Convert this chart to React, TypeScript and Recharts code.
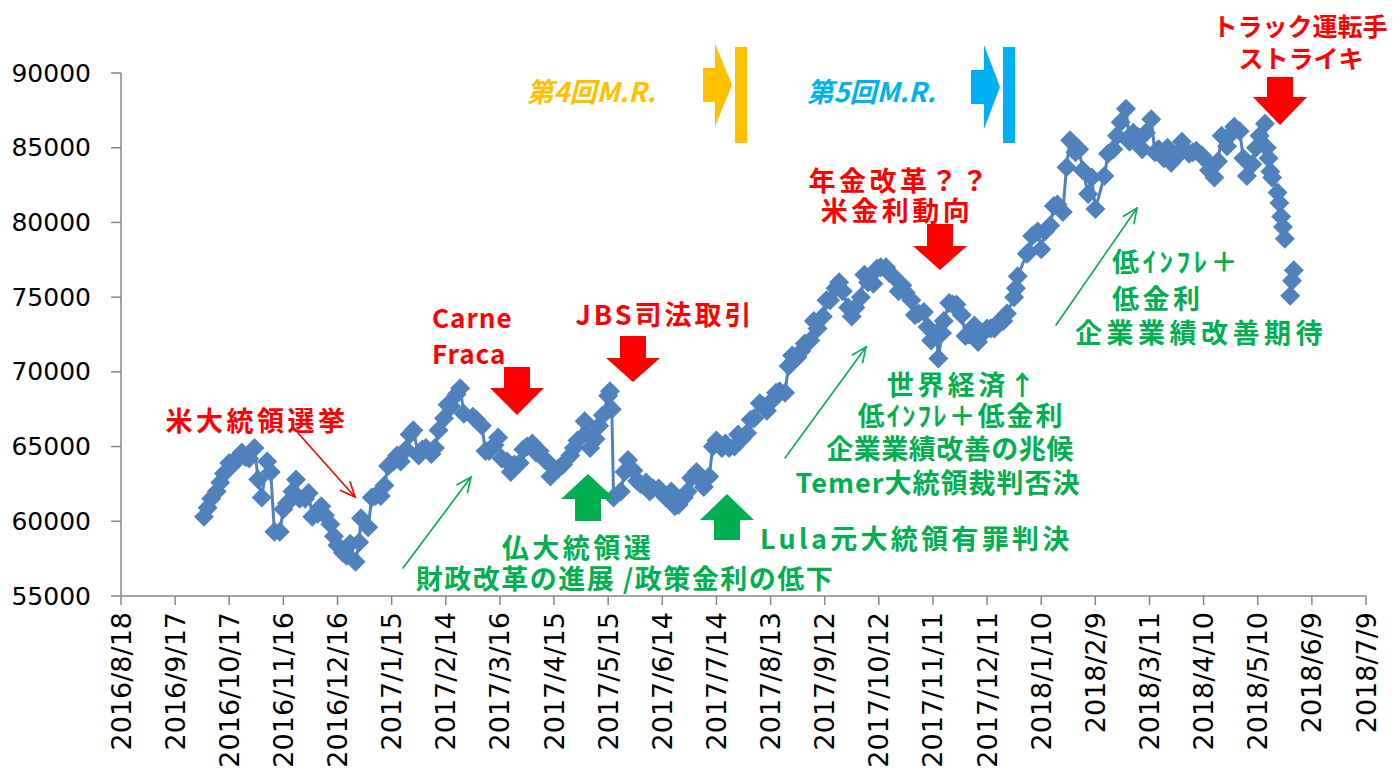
import React from 'react';
import { LineChart, Line, XAxis, YAxis } from 'recharts';

const dates: string[] = [
'2016-10-03','2016-10-05','2016-10-07',
'2016-10-10','2016-10-12','2016-10-14',
'2016-10-17','2016-10-19','2016-10-21',
'2016-10-24','2016-10-26','2016-10-28',
'2016-10-31','2016-11-02','2016-11-04',
'2016-11-07','2016-11-09','2016-11-11',
'2016-11-14','2016-11-16','2016-11-18',
'2016-11-21','2016-11-23','2016-11-25',
'2016-11-28','2016-11-30','2016-12-02',
'2016-12-05','2016-12-07','2016-12-09',
'2016-12-12','2016-12-14','2016-12-16',
'2016-12-19','2016-12-21','2016-12-23',
'2016-12-26','2016-12-28','2016-12-29',
'2017-01-02','2017-01-04','2017-01-06',
'2017-01-09','2017-01-11','2017-01-13',
'2017-01-16','2017-01-18','2017-01-20',
'2017-01-23','2017-01-25','2017-01-27',
'2017-01-30','2017-02-01','2017-02-03',
'2017-02-06','2017-02-08','2017-02-10',
'2017-02-13','2017-02-15','2017-02-17',
'2017-02-20','2017-02-22','2017-02-24',
'2017-03-01','2017-03-03',
'2017-03-06','2017-03-08','2017-03-10',
'2017-03-13','2017-03-15','2017-03-17',
'2017-03-20','2017-03-22','2017-03-24',
'2017-03-27','2017-03-29','2017-03-31',
'2017-04-03','2017-04-05','2017-04-07',
'2017-04-10','2017-04-12','2017-04-13',
'2017-04-17','2017-04-19','2017-04-20',
'2017-04-24','2017-04-26','2017-04-28',
'2017-05-02','2017-05-03','2017-05-05',
'2017-05-08','2017-05-10','2017-05-12',
'2017-05-15','2017-05-16','2017-05-17','2017-05-18',
'2017-05-22','2017-05-24','2017-05-26',
'2017-05-29','2017-05-31','2017-06-02',
'2017-06-05','2017-06-07','2017-06-09',
'2017-06-12','2017-06-14','2017-06-16',
'2017-06-19','2017-06-21','2017-06-23',
'2017-06-26','2017-06-28','2017-06-30',
'2017-07-03','2017-07-05','2017-07-07',
'2017-07-10','2017-07-12','2017-07-14',
'2017-07-17','2017-07-19','2017-07-21',
'2017-07-24','2017-07-26','2017-07-28',
'2017-07-31','2017-08-02','2017-08-04',
'2017-08-07','2017-08-09','2017-08-11',
'2017-08-14','2017-08-16','2017-08-18',
'2017-08-21','2017-08-23','2017-08-25',
'2017-08-28','2017-08-30','2017-09-01',
'2017-09-04','2017-09-06','2017-09-08',
'2017-09-11','2017-09-13','2017-09-15',
'2017-09-18','2017-09-20','2017-09-22',
'2017-09-25','2017-09-27','2017-09-29',
'2017-10-02','2017-10-04','2017-10-06',
'2017-10-09','2017-10-11','2017-10-13',
'2017-10-16','2017-10-18','2017-10-20',
'2017-10-23','2017-10-25','2017-10-27',
'2017-10-30','2017-11-01','2017-11-03',
'2017-11-06','2017-11-08','2017-11-10',
'2017-11-13','2017-11-14','2017-11-16','2017-11-17',
'2017-11-20','2017-11-22','2017-11-24',
'2017-11-27','2017-11-29','2017-12-01',
'2017-12-04','2017-12-06','2017-12-08',
'2017-12-11','2017-12-13','2017-12-15',
'2017-12-18','2017-12-20','2017-12-22',
'2017-12-26','2017-12-27','2017-12-28',
'2018-01-02','2018-01-03','2018-01-05',
'2018-01-08','2018-01-10','2018-01-12',
'2018-01-15','2018-01-17','2018-01-19',
'2018-01-22','2018-01-24','2018-01-26',
'2018-01-29','2018-01-31','2018-02-02',
'2018-02-05','2018-02-07','2018-02-09',
'2018-02-14','2018-02-16',
'2018-02-19','2018-02-21','2018-02-23',
'2018-02-26','2018-02-28','2018-03-02',
'2018-03-05','2018-03-07','2018-03-09',
'2018-03-12','2018-03-14','2018-03-16',
'2018-03-19','2018-03-21','2018-03-23',
'2018-03-26','2018-03-28','2018-03-29',
'2018-04-02','2018-04-04','2018-04-06',
'2018-04-09','2018-04-11','2018-04-13',
'2018-04-16','2018-04-18','2018-04-20',
'2018-04-23','2018-04-25','2018-04-27',
'2018-04-30','2018-05-02','2018-05-04',
'2018-05-07','2018-05-09','2018-05-11',
'2018-05-14','2018-05-15','2018-05-16','2018-05-17','2018-05-18',
'2018-05-21','2018-05-22','2018-05-23','2018-05-24','2018-05-25',
'2018-05-26',
'2018-05-28','2018-05-29','2018-05-30',
];

const values: (number | null)[] = [
60300,60900,61500,
62000,62600,63200,
63900,63800,64200,
64600,64300,64200,
64900,62800,61600,
64000,63300,59300,
59300,60800,61200,
62000,62800,61500,
61500,61900,60300,
60500,61000,60400,
59800,59000,58400,
57900,57700,58500,
57300,58600,60200,
59600,61600,61700,
61700,62400,63700,
64000,64400,64000,
64800,65800,66100,
64400,64800,64900,
64500,64900,66100,
66900,67800,67700,
68500,68900,67200,
67000,66800,
66400,64700,64700,
65100,65600,64200,
64000,63300,63800,
63900,64800,65000,
65200,64600,64700,
64100,63900,63000,
63500,63700,63800,
64400,64900,65400,
66700,65900,64900,
65500,66400,67100,
68400,68700,67500,61600,
62000,63300,64100,
63400,62700,62500,
62600,62000,62200,
62200,61900,61600,
62000,61000,61100,
61600,62000,62900,
63300,62800,62300,
63000,65000,65400,
64900,65200,64900,
65000,65800,65500,
65900,66800,66900,
67900,67700,67400,
68100,68600,68700,
68600,70400,71100,
71000,71400,71900,
72100,73400,72900,
73700,74800,74800,
75600,76000,75400,
74300,73700,74300,
75000,76500,76000,
75900,76900,77000,
77000,76600,76400,
75400,75800,75300,
74800,73800,73900,
74000,73000,72100,
72600,70900,72600,73400,
74600,74500,74500,
73800,72400,72500,
73100,72000,72500,
72900,72900,72900,
73400,73400,73900,
75000,75600,76400,
77900,78000,79100,
79400,78200,79400,
79800,81100,81200,
80700,83700,85500,
84700,84900,83500,
81900,83000,80900,
83100,84600,
84900,85800,86700,
87600,85400,86000,
85700,84900,86000,
86900,84700,84900,
84300,85000,84000,
84400,84800,85400,
84600,84700,84800,
84500,84200,83500,
83000,84100,85800,
85100,85900,86400,
86100,84300,83100,
83900,85000,85800,
86600,85000,84300,83400,83000,
82000,81300,80400,79700,78900,
null,
75100,76100,76800,
];

const xTickLabels: string[] = [
'2016/8/18','2016/9/17','2016/10/17','2016/11/16','2016/12/16',
'2017/1/15','2017/2/14','2017/3/16','2017/4/15','2017/5/15','2017/6/14',
'2017/7/14','2017/8/13','2017/9/12','2017/10/12','2017/11/11','2017/12/11',
'2018/1/10','2018/2/9','2018/3/11','2018/4/10','2018/5/10','2018/6/9','2018/7/9',
];

const yTicks: number[] = [55000, 60000, 65000, 70000, 75000, 80000, 85000, 90000];

const toTs = (s: string) => {
  const [y, m, d] = s.split(/[-/]/).map(Number);
  return Date.UTC(y, m - 1, d);
};

const data = dates.map((d, i) => ({ t: toTs(d), v: values[i] }));
const xTicks = xTickLabels.map(toTs);

const AXIS = '#868686';
const BLUE = '#4F81BD';
const RED = '#FF0000';
const GREEN = '#00B050';
const ORANGE = '#FFC000';
const CYAN = '#00B0F0';
const JP = "'Noto Sans CJK JP', 'Noto Sans', sans-serif";

const XTick = (props: any) => {
  const { x, y, payload } = props;
  const idx = xTicks.indexOf(payload.value);
  const label = idx >= 0 ? xTickLabels[idx] : '';
  return (
    <text x={x} y={y} transform={`rotate(-90 ${x} ${y})`} textAnchor="end" dominantBaseline="central"
      fontFamily="'DejaVu Sans', sans-serif" fontSize={27} fill="#000">{label}</text>
  );
};

const YTick = (props: any) => {
  const { x, y, payload } = props;
  return (
    <text x={x} y={y} textAnchor="end" dominantBaseline="central"
      fontFamily="'DejaVu Sans', sans-serif" fontSize={25} fill="#000">{payload.value}</text>
  );
};

const Diamond = (props: any) => {
  const { cx, cy, index, payload } = props;
  if (payload == null || payload.v == null || cx == null || cy == null) return <g key={index} />;
  const r = 10;
  return <path key={index} d={`M${cx},${cy - r}L${cx + r},${cy}L${cx},${cy + r}L${cx - r},${cy}Z`} fill={BLUE} />;
};

const T = ({ x, y, color, anchor = 'middle', size = 27, italic = false, ls = 3.5, children }: any) => (
  <text x={x} y={y} fill={color} textAnchor={anchor} dominantBaseline="central" fontFamily={JP}
    fontWeight={700} fontSize={size} fontStyle={italic ? 'italic' : 'normal'} letterSpacing={ls}>{children}</text>
);

const DownArrow = ({ cx, top, bottom, headH, shaftW = 26, headW = 54, color }: any) => {
  const sy = bottom - headH;
  const pts = [
    [cx - shaftW / 2, top], [cx + shaftW / 2, top], [cx + shaftW / 2, sy], [cx + headW / 2, sy],
    [cx, bottom], [cx - headW / 2, sy], [cx - shaftW / 2, sy],
  ].map(p => p.join(',')).join(' ');
  return <polygon points={pts} fill={color} />;
};

const UpArrow = ({ cx, top, bottom, headH, shaftW = 26, headW = 54, color }: any) => {
  const sy = top + headH;
  const pts = [
    [cx, top], [cx + headW / 2, sy], [cx + shaftW / 2, sy], [cx + shaftW / 2, bottom],
    [cx - shaftW / 2, bottom], [cx - shaftW / 2, sy], [cx - headW / 2, sy],
  ].map(p => p.join(',')).join(' ');
  return <polygon points={pts} fill={color} />;
};

const RightArrow = ({ left, tipX, shaftEnd, cy, shaftH, headH, color }: any) => {
  const pts = [
    [left, cy - shaftH / 2], [shaftEnd, cy - shaftH / 2], [shaftEnd, cy - headH / 2], [tipX, cy],
    [shaftEnd, cy + headH / 2], [shaftEnd, cy + shaftH / 2], [left, cy + shaftH / 2],
  ].map(p => p.join(',')).join(' ');
  return <polygon points={pts} fill={color} />;
};

const ThinArrow = ({ x1, y1, x2, y2, color, w = 1.6 }: any) => {
  const a = Math.atan2(y2 - y1, x2 - x1);
  const L = 16, s = 0.42;
  const p1 = [x2 - L * Math.cos(a - s), y2 - L * Math.sin(a - s)];
  const p2 = [x2 - L * Math.cos(a + s), y2 - L * Math.sin(a + s)];
  return (
    <g stroke={color} strokeWidth={w} fill="none" strokeLinecap="round">
      <line x1={x1} y1={y1} x2={x2} y2={y2} />
      <polyline points={`${p1[0]},${p1[1]} ${x2},${y2} ${p2[0]},${p2[1]}`} />
    </g>
  );
};

const Annotations = () => (
  <svg width={1394} height={768} style={{ position: 'absolute', left: 0, top: 0, pointerEvents: 'none' }}>
    <T x={591} y={90} color={ORANGE} italic ls={0}>第4回M.R.</T>
    <RightArrow left={703} shaftEnd={715} tipX={732} cy={85} shaftH={34} headH={83} color={ORANGE} />
    <rect x={735} y={47} width={12} height={96} fill={ORANGE} />
    <T x={871} y={90} color={CYAN} italic ls={0}>第5回M.R.</T>
    <RightArrow left={971} shaftEnd={984} tipX={1000} cy={87} shaftH={34} headH={84} color={CYAN} />
    <rect x={1003} y={47} width={12} height={96} fill={CYAN} />

    <T x={257} y={419} color={RED}>米大統領選挙</T>
    <ThinArrow x1={298} y1={433} x2={355} y2={497} color={RED} />
    <T x={432} y={316} color={RED} anchor="start" ls={1} size={26}>Carne</T>
    <T x={432} y={352} color={RED} anchor="start" ls={1} size={26}>Fraca</T>
    <DownArrow cx={517} top={367} bottom={415} headH={27} color={RED} />
    <T x={665} y={313} color={RED} ls={3}>JBS司法取引</T>
    <DownArrow cx={633} top={336} bottom={382} headH={24} color={RED} />
    <T x={900} y={179} color={RED}>年金改革？？</T>
    <T x={897} y={209} color={RED}>米金利動向</T>
    <DownArrow cx={940} top={224} bottom={270} headH={24} color={RED} />
    <T x={1300} y={25} color={RED} ls={0} size={25}>トラック運転手</T>
    <T x={1301} y={57} color={RED} ls={0} size={25}>ストライキ</T>
    <DownArrow cx={1280} top={77} bottom={125} headH={28} color={RED} />

    <UpArrow cx={588} top={474} bottom={521} headH={25} color={GREEN} />
    <UpArrow cx={727} top={494} bottom={540} headH={26} color={GREEN} />
    <T x={578} y={546} color={GREEN}>仏大統領選</T>
    <T x={625} y={577} color={GREEN} ls={1.5}>財政改革の進展 /政策金利の低下</T>
    <T x={760} y={537} color={GREEN} anchor="start" ls={3.3}>Lula元大統領有罪判決</T>
    <ThinArrow x1={403} y1={568} x2={471} y2={477} color={GREEN} />
    <ThinArrow x1={785} y1={458} x2={866} y2={347} color={GREEN} />
    <T x={963} y={383} color={GREEN}>世界経済↑</T>
    <T x={961} y={414} color={GREEN} ls={2}>低ｲﾝﾌﾚ＋低金利</T>
    <T x={950} y={447} color={GREEN} ls={0.5}>企業業績改善の兆候</T>
    <T x={938} y={481} color={GREEN} ls={1}>Temer大統領裁判否決</T>
    <ThinArrow x1={1056} y1={325} x2={1137} y2={208} color={GREEN} />
    <T x={1112} y={260} color={GREEN} anchor="start">低ｲﾝﾌﾚ＋</T>
    <T x={1112} y={297} color={GREEN} anchor="start">低金利</T>
    <T x={1201} y={331} color={GREEN} ls={4.5}>企業業績改善期待</T>
  </svg>
);

export default function App() {
  return (
    <div style={{ position: 'absolute', left: 0, top: 0, width: 1394, height: 768, background: '#fff', overflow: 'hidden' }}>
      <LineChart width={1394} height={768} data={data} margin={{ top: 73, right: 28, bottom: 0, left: 0 }}>
        <XAxis dataKey="t" type="number" domain={[xTicks[0], xTicks[xTicks.length - 1]]} ticks={xTicks}
          allowDataOverflow stroke={AXIS} strokeWidth={1.5} tickLine={{ stroke: AXIS, strokeWidth: 1.5 }}
          tickSize={9} tickMargin={7} tick={<XTick />} interval={0} height={172} />
        <YAxis type="number" domain={[55000, 90000]} ticks={yTicks} width={121} allowDataOverflow
          stroke={AXIS} strokeWidth={1.5} tickLine={{ stroke: AXIS, strokeWidth: 1.5 }}
          tickSize={10} tickMargin={20} tick={<YTick />} interval={0} />
        <Line dataKey="v" stroke={BLUE} strokeWidth={3} dot={Diamond} activeDot={false}
          isAnimationActive={false} connectNulls={false} />
      </LineChart>
      <Annotations />
    </div>
  );
}
